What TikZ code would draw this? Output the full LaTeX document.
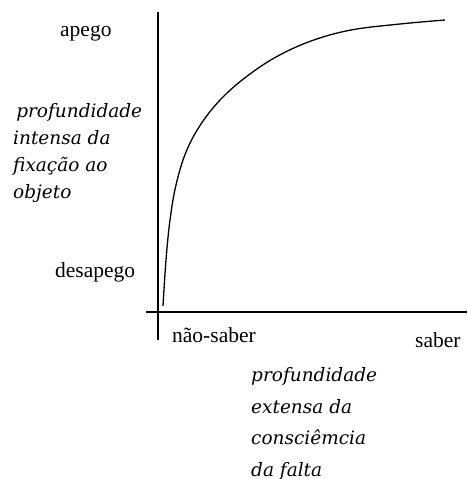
\documentclass[tikz,border=0pt]{standalone}
\usepackage{fontspec}
\setmainfont{Liberation Serif}
\newfontfamily\notefont{DejaVu Serif}
\usetikzlibrary{positioning}
\tikzset{
    axis/.style={line width=1.6pt},
    curve/.style={line width=1.3pt},
    lbl/.style={anchor=base west, inner sep=0pt, font=\fontsize{21.5}{24}\selectfont},
    note/.style={anchor=base west, inner sep=0pt, align=left, font=\notefont\itshape\fontsize{18.5}{27}\selectfont}
}

\begin{document}
\begin{tikzpicture}[x=1pt, y=-1pt]
    \useasboundingbox (0,0) rectangle (467,479);

    % axes
    \coordinate (ytop) at (158,12);
    \coordinate (ybot) at (158,340);
    \coordinate (xl) at (146,312);
    \coordinate (xr) at (467,312);
    \draw[axis] (ybot) -- (ytop);
    \draw[axis] (xl) -- (xr);

    % curve
    \draw[curve] plot[smooth, tension=0.6] coordinates {
        (163,306) (166,260) (170,220) (176,185) (186,152) (201,124)
        (221,99) (246,77) (276,57) (311,41) (351,30) (400,24) (445,20)};

    % labels
    \node[lbl] (apego) at (60,36) {apego};
    \node[lbl] (desapego) at (55,277) {desapego};
    \node[lbl] (naosaber) at (172,342) {não-saber};
    \node[lbl] (saber) at (415,347) {saber};

    % base anchor of a multi-line node sits on its last line
    \node[note] (intensa) at (13,198) {\,profundidade\\intensa da\\fixação ao\\objeto};
    \node[note, font=\notefont\itshape\fontsize{18.5}{31.5}\selectfont] (extensa) at (251,476)
        {profundidade\\extensa da\\consciêmcia\\da falta};
\end{tikzpicture}
\end{document}
